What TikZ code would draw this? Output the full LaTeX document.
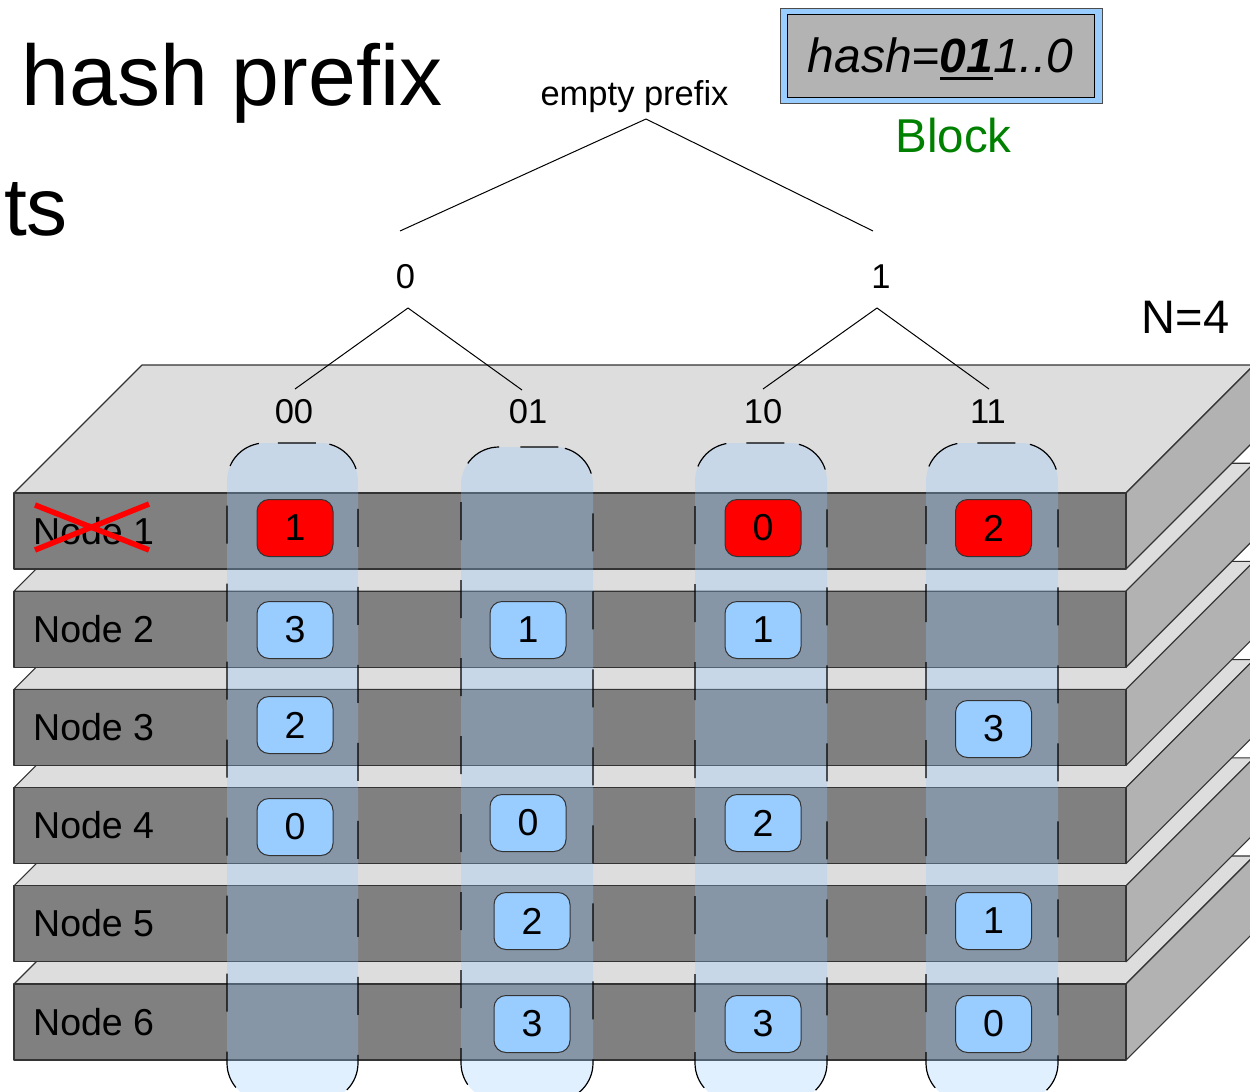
\documentclass[tikz,border=0pt]{standalone}
\usepackage{fontspec}
\setmainfont{Liberation Sans}
\usetikzlibrary{calc}
\definecolor{topc}{HTML}{DDDDDD}
\definecolor{frontc}{HTML}{808080}
\definecolor{sidec}{HTML}{B2B2B2}
\definecolor{boxblue}{HTML}{99CCFF}
\definecolor{blockgray}{HTML}{B3B3B3}
\definecolor{blockgreen}{HTML}{008000}
\newcommand{\fsz}[1]{\fontsize{#1}{#1}\selectfont}
\newlength{\ulwidth}
\newcommand{\thickul}[1]{\settowidth{\ulwidth}{#1}\rlap{\rule[-8pt]{\ulwidth}{3pt}}#1}
\begin{document}
\begin{tikzpicture}[x=1pt,y=-1pt,
  face/.style={draw=black!80,line width=1.1pt,line join=round},
  treeline/.style={draw=black,line width=1pt},
  lbl/.style={inner sep=0,anchor=base,font=\fsz{34.5}},
  nodelbl/.style={inner sep=0,anchor=base west,font=\fsz{37.5}},
  keybox/.style={draw=black!80,line width=1pt,rounded corners=12pt,minimum width=76pt,minimum height=57pt,inner sep=0,font=\fsz{37.5},fill=boxblue},
  deadbox/.style={keybox,fill=red},
  prefixcol/.style={fill=boxblue,fill opacity=0.3,draw=black,line width=1.2pt,dash pattern=on 38pt off 40pt,dash phase=58pt,rounded corners=38pt}]

\useasboundingbox (0,0) rectangle (1250,1092);
\clip (0,0) rectangle (1250,1092);

% slabs, bottom to top
\foreach \i in {5,4,3,2,1,0}{
  \pgfmathsetmacro\T{493+98.2*\i}
  \path[face,fill=topc] (14,\T) -- (1126,\T) -- (1254,\T-128) -- (142,\T-128) -- cycle;
  \path[face,fill=sidec] (1126,\T) -- (1254,\T-128) -- (1254,\T-52) -- (1126,\T+76) -- cycle;
  \path[face,fill=frontc] (14,\T) rectangle (1126,\T+76);
}

% node labels
\node[nodelbl] (lab1) at (33,544) {Node 1};
\node[nodelbl] (lab2) at (33,642.2) {Node 2};
\node[nodelbl] (lab3) at (33,740.4) {Node 3};
\node[nodelbl] (lab4) at (33,838.6) {Node 4};
\node[nodelbl] (lab5) at (33,936.8) {Node 5};
\node[nodelbl] (lab6) at (33,1035) {Node 6};
\draw[red,line width=5.5pt] (35,505) -- (149,550);
\draw[red,line width=5.5pt] (35,550) -- (149,504);

% prefix columns
\path[prefixcol] (292.5,443) -- (358,443) -- (358,1101) -- (227,1101) -- (227,443) -- cycle;
\path[prefixcol] (527,447) -- (593,447) -- (593,1101) -- (461,1101) -- (461,447) -- cycle;
\path[prefixcol] (761,443) -- (827,443) -- (827,1101) -- (695,1101) -- (695,443) -- cycle;
\path[prefixcol] (992,443) -- (1058,443) -- (1058,1101) -- (926,1101) -- (926,443) -- cycle;

% prefix tree
\node[lbl] (ep) at (634.5,105) {empty prefix};
\node[lbl] (p0) at (405.5,288) {0};
\node[lbl] (p1) at (881,288) {1};
\node[lbl] (p00) at (294,423) {00};
\node[lbl] (p01) at (528,423) {01};
\node[lbl] (p10) at (763,423) {10};
\node[lbl] (p11) at (988,423) {11};
\coordinate (ep-s) at (646,119);
\coordinate (p0-n) at (400,231);
\coordinate (p1-n) at (873,231);
\coordinate (p0-s) at (408,308);
\coordinate (p1-s) at (877,308);
\coordinate (p00-n) at (295,389);
\coordinate (p01-n) at (522,390);
\coordinate (p10-n) at (763,389);
\coordinate (p11-n) at (989,389);
\draw[treeline] (ep-s) -- (p0-n);
\draw[treeline] (ep-s) -- (p1-n);
\draw[treeline] (p0-s) -- (p00-n);
\draw[treeline] (p0-s) -- (p01-n);
\draw[treeline] (p1-s) -- (p10-n);
\draw[treeline] (p1-s) -- (p11-n);

% replicas
\node[deadbox] (r1a) at (295,528) {1};
\node[deadbox] (r1c) at (763,528) {0};
\node[deadbox] (r1d) at (993.5,528) {2};
\node[keybox] (r2a) at (295,630) {3};
\node[keybox] (r2b) at (528,630) {1};
\node[keybox] (r2c) at (763,630) {1};
\node[keybox] (r3a) at (295,725) {2};
\node[keybox] (r3d) at (993.5,729) {3};
\node[keybox] (r4a) at (295,827) {0};
\node[keybox] (r4b) at (528,823) {0};
\node[keybox] (r4c) at (763,823) {2};
\node[keybox] (r5b) at (532,921) {2};
\node[keybox] (r5d) at (993.5,921) {1};
\node[keybox] (r6b) at (532,1024) {3};
\node[keybox] (r6c) at (763,1024) {3};
\node[keybox] (r6d) at (993.5,1024) {0};

% titles
\node[inner sep=0,anchor=base west,font=\fsz{86}] (title) at (21.5,105) {hash prefix};
\node[inner sep=0,anchor=base west,font=\fsz{82}] (ts) at (4,235) {ts};
\node[inner sep=0,anchor=base,font=\fsz{47}] (nlbl) at (1185.5,333) {N=4};

% block
\node[draw=black!70,line width=1pt,fill=boxblue,minimum width=322pt,minimum height=95pt,inner sep=0] (blockout) at (941,55.5) {};
\node[draw=black,line width=1pt,fill=blockgray,minimum width=307pt,minimum height=83pt,inner sep=0] (blockin) at (940.5,55.5) {};
\node[inner sep=0,anchor=base,font=\fsz{48}\itshape] (hash) at (940.5,72) {hash=\thickul{\textbf{01}}1..0};
\node[inner sep=0,anchor=base,font=\fsz{47.5},text=blockgreen] (blocklbl) at (953.5,152) {Block};
\end{tikzpicture}
\end{document}
